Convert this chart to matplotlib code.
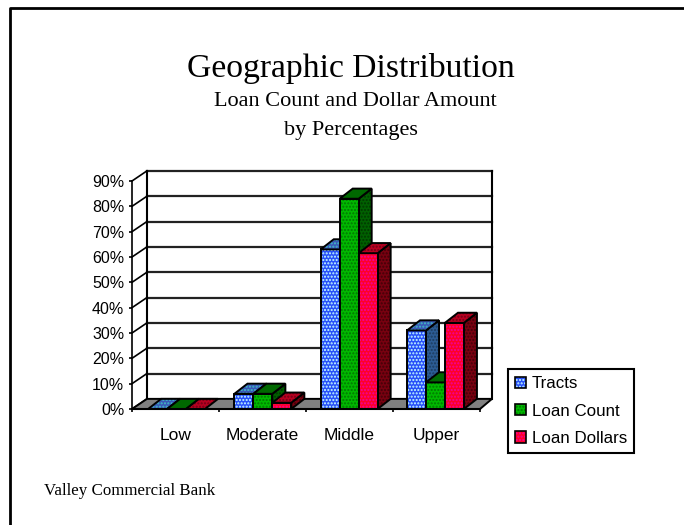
import matplotlib
matplotlib.use("Agg")
import matplotlib.pyplot as plt
from matplotlib.patches import Polygon, Patch
from matplotlib.legend_handler import HandlerTuple

categories = ["Low", "Moderate", "Middle", "Upper"]
series_names = ["Tracts", "Loan Count", "Loan Dollars"]
tracts = [0, 6, 63, 31]
loan_count = [0, 6, 83, 10.5]
loan_dollars = [0, 2.5, 61.5, 34]
y_ticks = [0, 10, 20, 30, 40, 50, 60, 70, 80, 90]

# colours of each series: faces and the dot pattern laid over them
styles = [
    {"front": "#2850f8", "dots": "#c8ffff", "top": "#3a58b8", "top_dots": "#40c0c0",
     "side": "#2c5c94", "side_dots": "#1c3c60"},
    {"front": "#00b800", "dots": "#007800", "top": "#006800", "top_dots": "#006800",
     "side": "#006000", "side_dots": "#003800"},
    {"front": "#ff0028", "dots": "#f000a0", "top": "#b80020", "top_dots": "#700018",
     "side": "#780010", "side_dots": "#400008"},
]

W, H = 684, 525
DEPTH_X = 0.172        # depth of the box in category units
DEPTH_Y = 4.0          # depth of the box in percent units
RIGHT_DEPTH_X = 0.138  # right side of the box runs a bit steeper
BAR_DEPTH_X = 0.15
BAR_W = 0.218
HATCH = "....."

plt.rcParams["hatch.linewidth"] = 1.0

fig = plt.figure(figsize=(W / 100, H / 100), dpi=100, facecolor="white")

# outer frame, open at the right and bottom
fig.add_artist(plt.Line2D([10 / W, 10 / W, 1], [0, 1 - 7.5 / H, 1 - 7.5 / H],
                          color="black", lw=2, transform=fig.transFigure))

ax = fig.add_axes([132 / W, 1 - 409 / H, 348 / W, 228 / H])
ax.set_xlim(0, 4)
ax.set_ylim(0, 90)
ax.patch.set_visible(False)
for name in ["top", "right"]:
    ax.spines[name].set_visible(False)
ax.spines["left"].set_linewidth(1.2)
ax.spines["bottom"].set_linewidth(1.5)
ax.spines["bottom"].set_zorder(6)


def poly(points, face, zorder, hatch_color=None):
    if hatch_color:
        ax.add_patch(Polygon(points, closed=True, facecolor=face, edgecolor=hatch_color,
                             hatch=HATCH, lw=0, zorder=zorder, clip_on=False))
        ax.add_patch(Polygon(points, closed=True, fill=False, edgecolor="black",
                             lw=1.4, zorder=zorder + 0.01, clip_on=False))
    else:
        ax.add_patch(Polygon(points, closed=True, facecolor=face, edgecolor="black",
                             lw=1.4, zorder=zorder, clip_on=False))


right = 4 + RIGHT_DEPTH_X

# gray floor of the box
poly([(0, 0), (DEPTH_X, DEPTH_Y), (right, DEPTH_Y), (4, 0)], "#808080", 1)

# back wall lines and the slanted lines on the side wall
for t in y_ticks:
    if t > 0:
        ax.plot([DEPTH_X, right], [t + DEPTH_Y, t + DEPTH_Y], color="#222222",
                lw=1.6, zorder=0.5, clip_on=False)
    ax.plot([0, DEPTH_X], [t, t + DEPTH_Y], color="black", lw=1.2, zorder=0.5, clip_on=False)
ax.plot([DEPTH_X, DEPTH_X], [DEPTH_Y, 90 + DEPTH_Y], color="black", lw=1.5, zorder=0.5, clip_on=False)
ax.plot([right, right], [DEPTH_Y, 90 + DEPTH_Y], color="black", lw=1.5, zorder=0.5, clip_on=False)

# bars, drawn left to right so nearer faces overlap correctly
for i in range(len(categories)):
    for j, values in enumerate([tracts, loan_count, loan_dollars]):
        v = values[i]
        s = styles[j]
        x0 = i * 0.992 + 0.185 + j * BAR_W
        x1 = x0 + BAR_W
        z = 2 + i + j * 0.2
        dx, dy = BAR_DEPTH_X, DEPTH_Y
        if v > 0:
            poly([(x1, 0), (x1 + dx, dy), (x1 + dx, v + dy), (x1, v)], s["side"], z, s["side_dots"])
            poly([(x0, 0), (x1, 0), (x1, v), (x0, v)], s["front"], z + 0.02, s["dots"])
        poly([(x0, v), (x0 + dx, v + dy), (x1 + dx, v + dy), (x1, v)], s["top"], z + 0.04, s["top_dots"])

ax.set_xticks([0, 1, 2, 3, 4])
ax.set_xticklabels([])
ax.set_yticks(y_ticks)
ax.set_yticklabels([f"{t}%" for t in y_ticks], family="Liberation Sans", fontsize=11.5)
ax.tick_params(axis="y", length=2, width=1.2, pad=3.5)
ax.tick_params(axis="x", length=2, width=1.2, direction="out")
for i, c in enumerate(categories):
    ax.annotate(c, (i + 0.5, 0), xytext=(0, -19), textcoords="offset points", ha="center",
                va="center", family="Liberation Sans", fontsize=12.5)

fig.text(351 / W, 1 - 68 / H, "Geographic Distribution", family="Liberation Serif",
         fontsize=24.2, ha="center", va="center")
fig.text(355 / W, 1 - 102 / H, "Loan Count and Dollar Amount", family="Liberation Serif",
         fontsize=16, ha="center", va="center")
fig.text(351 / W, 1 - 130 / H, "by Percentages", family="Liberation Serif",
         fontsize=16, ha="center", va="center")
fig.text(44 / W, 1 - 491 / H, "Valley Commercial Bank", family="Liberation Serif",
         fontsize=12.2, ha="left", va="center")

# legend keys: dotted swatch with a black outline on top
handles = [(Patch(facecolor=s["front"], edgecolor=s["dots"], hatch=HATCH, lw=0),
            Patch(fill=False, edgecolor="black", lw=1.2)) for s in styles]
leg = fig.legend(handles, series_names, loc="lower left",
                 bbox_to_anchor=(508 / W, 1 - 453 / H), bbox_transform=fig.transFigure,
                 handler_map={tuple: HandlerTuple(ndivide=1, pad=0)},
                 fancybox=False, framealpha=1, edgecolor="black", borderaxespad=0,
                 prop={"family": "Liberation Sans", "size": 12.2},
                 handlelength=0.65, handleheight=0.65, handletextpad=0.35,
                 labelspacing=0.72, borderpad=0.42)
leg.get_frame().set_linewidth(1.5)

fig.savefig("out.png", dpi=100)
